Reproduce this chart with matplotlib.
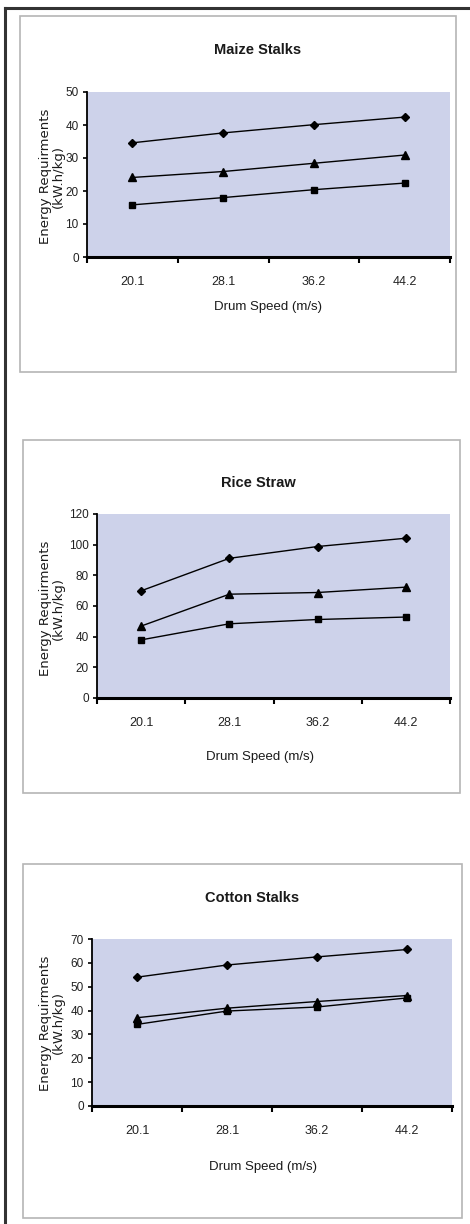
import matplotlib
matplotlib.use("Agg")
import matplotlib.pyplot as plt
from matplotlib.patches import Rectangle
from matplotlib.lines import Line2D
from matplotlib.ticker import FixedLocator, NullFormatter, FixedFormatter

# ---- data ----
drum_speeds = ["20.1", "28.1", "36.2", "44.2"]

maize_diamond = [34.6, 37.6, 40.1, 42.4]
maize_triangle = [24.1, 25.9, 28.4, 30.9]
maize_square = [15.8, 18.0, 20.4, 22.4]

rice_diamond = [69.9, 91.1, 98.8, 104.2]
rice_triangle = [46.9, 67.7, 68.8, 72.3]
rice_square = [37.9, 48.4, 51.2, 52.8]

cotton_diamond = [54.0, 59.1, 62.5, 65.6]
cotton_triangle = [37.0, 41.0, 43.8, 46.3]
cotton_square = [34.2, 39.8, 41.5, 45.3]

titles = ["Maize Stalks", "Rice Straw", "Cotton Stalks"]
y_limits = [50, 120, 70]
y_steps = [10, 20, 10]
ylabel_text = "Energy Requirments\n(kW.h/kg)"
xlabel_text = "Drum Speed (m/s)"

W, H = 470, 1224
fig = plt.figure(figsize=(W / 100, H / 100), dpi=100)
fig.patch.set_facecolor("white")

narrow = ["Liberation Sans Narrow", "Liberation Sans", "DejaVu Sans"]
wide = ["DejaVu Sans"]

def fx(px):
    return px / W

def fy(py):
    return 1 - py / H

# outer frame lines
fig.add_artist(Line2D([fx(5), fx(470)], [fy(8), fy(8)], color="#333333", lw=2.2))
fig.add_artist(Line2D([fx(5), fx(5)], [fy(8), fy(1224)], color="#333333", lw=2.2))

# panel layout (pixels)
boxes = [(20, 16, 456, 372), (23, 440, 460, 793), (23, 864, 462, 1218)]
axes_px = [(87, 92, 450, 257), (97, 514, 450, 698), (92, 939, 452, 1106)]
title_px = [(258, 50), (258, 483), (252, 898)]
xlabel_px = [(268, 307), (260, 757), (263, 1167)]
ylabel_px = [(52, 176), (52, 608), (52, 1023)]

series_sets = [
    (maize_diamond, maize_triangle, maize_square),
    (rice_diamond, rice_triangle, rice_square),
    (cotton_diamond, cotton_triangle, cotton_square),
]

for i in range(3):
    bx0, by0, bx1, by1 = boxes[i]
    fig.add_artist(Rectangle((fx(bx0), fy(by1)), fx(bx1 - bx0), (by1 - by0) / H,
                             fill=False, edgecolor="#b5b5b5", lw=1.2))
    ax0, ay0, ax1, ay1 = axes_px[i]
    ax = fig.add_axes([fx(ax0), fy(ay1), fx(ax1 - ax0), (ay1 - ay0) / H])
    ax.set_facecolor("#cdd2ea")
    xs = list(range(len(drum_speeds)))
    d, t, s = series_sets[i]
    ax.plot(xs, d, color="black", lw=1, marker="D", ms=4.5)
    ax.plot(xs, t, color="black", lw=1, marker="^", ms=5.5)
    ax.plot(xs, s, color="black", lw=1, marker="s", ms=5)
    ax.set_xlim(-0.5, len(drum_speeds) - 0.5)
    ax.set_ylim(0, y_limits[i])
    ax.set_yticks(list(range(0, y_limits[i] + 1, y_steps[i])))
    for lbl in ax.get_yticklabels():
        lbl.set_family(narrow)
        lbl.set_fontsize(8.5)
        lbl.set_color("#222222")
    ax.tick_params(axis="y", direction="out", length=3, width=1.2, pad=3)
    # x ticks at category boundaries, labels at centers
    ax.xaxis.set_major_locator(FixedLocator([-0.5, 0.5, 1.5, 2.5, 3.5]))
    ax.xaxis.set_major_formatter(NullFormatter())
    ax.xaxis.set_minor_locator(FixedLocator(xs))
    ax.xaxis.set_minor_formatter(FixedFormatter(drum_speeds))
    ax.tick_params(axis="x", which="major", direction="out", length=4, width=1.5)
    ax.tick_params(axis="x", which="minor", length=0, pad=14)
    for lbl in ax.xaxis.get_minorticklabels():
        lbl.set_family(narrow)
        lbl.set_fontsize(9)
        lbl.set_color("#222222")
    for side in ["top", "right"]:
        ax.spines[side].set_visible(False)
    ax.spines["left"].set_linewidth(1.3)
    ax.spines["bottom"].set_linewidth(2.2)

    tx, ty = title_px[i]
    fig.text(fx(tx), fy(ty), titles[i], ha="center", va="center",
             family=narrow, fontsize=10.5, fontweight="bold", color="#1a1a1a")
    lx, ly = xlabel_px[i]
    fig.text(fx(lx), fy(ly), xlabel_text, ha="center", va="center",
             family=narrow, fontsize=9.5, color="#1a1a1a")
    yx, yy = ylabel_px[i]
    fig.text(fx(yx), fy(yy), ylabel_text, ha="center", va="center", rotation=90,
             family=wide, fontsize=9.5, color="#1a1a1a", linespacing=0.95,
             multialignment="center")

fig.savefig("out.png", dpi=100, facecolor="white")
